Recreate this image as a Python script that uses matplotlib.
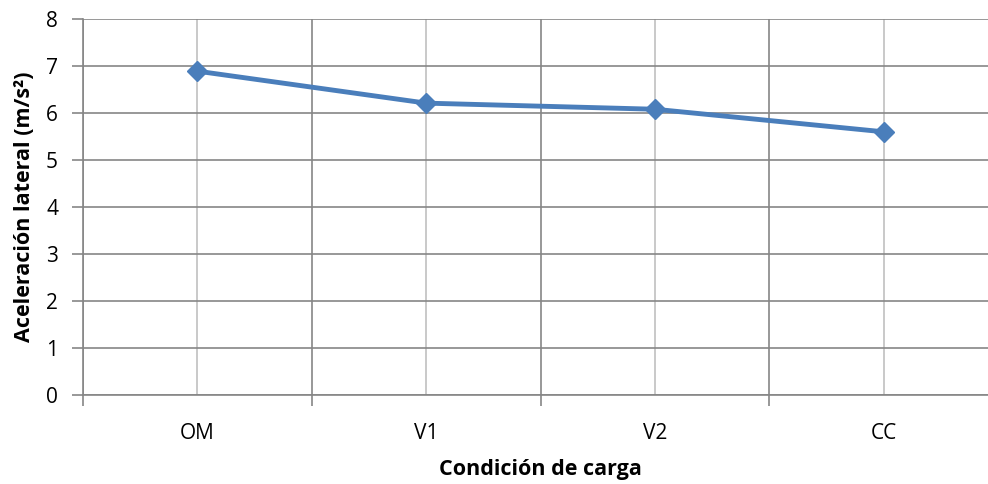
import matplotlib
matplotlib.use("Agg")
import matplotlib.pyplot as plt
from matplotlib.ticker import FixedLocator

plt.rcParams['font.family'] = ['Open Sans', 'DejaVu Sans']

condiciones = ["OM", "V1", "V2", "CC"]
aceleracion = [6.89, 6.21, 6.08, 5.6]

fig = plt.figure(figsize=(9.88, 4.84), dpi=100)
ax = fig.add_axes([83/988, 89/484, 915/988, 376/484])

x = list(range(len(condiciones)))
ax.plot(x, aceleracion, color="#4A7EBB", lw=3.5, marker="D", ms=10,
        markerfacecolor="#4A7EBB", markeredgecolor="#4A7EBB", zorder=5)

ax.set_xlim(-0.5, len(condiciones) - 0.5)
ax.set_ylim(0, 8)
ax.set_yticks(range(0, 9))
ax.set_xticks(x)
ax.set_xticklabels(condiciones)
ax.xaxis.set_minor_locator(FixedLocator([i - 0.5 for i in range(len(condiciones) + 1)]))

# rejilla estilo Excel
ax.grid(axis="y", which="major", color="#868686", lw=1.2)
ax.grid(axis="x", which="major", color="#c0c0c0", lw=1.2)
ax.grid(axis="x", which="minor", color="#868686", lw=1.2)
ax.set_axisbelow(True)

for s in ["top", "right"]:
    ax.spines[s].set_visible(False)
for s in ["left", "bottom"]:
    ax.spines[s].set_color("#868686")
    ax.spines[s].set_linewidth(1.2)

ax.tick_params(axis="y", which="major", length=8, color="#868686", width=1.2,
               labelsize=15, pad=10)
ax.tick_params(axis="x", which="major", length=0, labelsize=15, pad=20)
ax.tick_params(axis="x", which="minor", length=8, color="#868686", width=1.2)

ax.set_xlabel("Condición de carga", fontsize=15.5, fontweight="bold", labelpad=11)
ax.set_ylabel("Aceleración lateral (m/s²)", fontsize=15.5, fontweight="bold", labelpad=8)

fig.savefig("out.png", dpi=100)
